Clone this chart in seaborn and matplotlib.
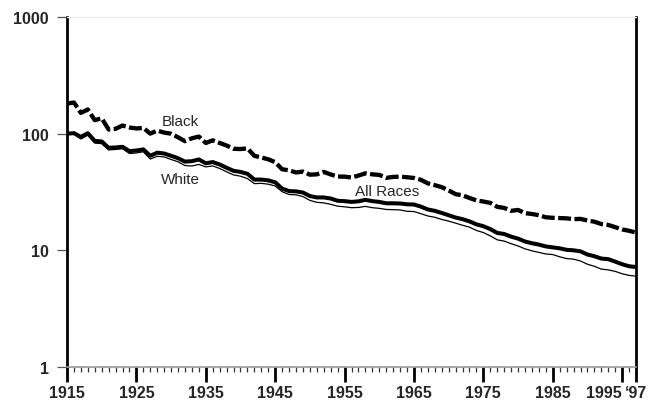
import numpy as np
import pandas as pd
import matplotlib
matplotlib.use("Agg")
import matplotlib.pyplot as plt
import seaborn as sns
from matplotlib.ticker import FixedLocator, FixedFormatter, NullFormatter

years = list(range(1915, 1998))

# infant deaths per 1,000 live births
all_races = [99.9, 101.0, 93.8, 100.9, 86.6, 85.8, 75.6, 76.2, 77.1, 70.8,
             71.7, 73.3, 64.6, 68.7, 67.6, 64.6, 61.6, 57.6, 58.1, 60.1,
             55.7, 57.1, 54.4, 51.0, 48.0, 47.0, 45.3, 40.4, 40.4, 39.8,
             38.3, 33.8, 32.2, 32.0, 31.3, 29.2, 28.4, 28.4, 27.8, 26.6,
             26.4, 26.0, 26.3, 27.1, 26.4, 26.0, 25.3, 25.3, 25.2, 24.8,
             24.7, 23.7, 22.4, 21.8, 20.9, 20.0, 19.1, 18.5, 17.7, 16.7,
             16.1, 15.2, 14.1, 13.8, 13.1, 12.6, 11.9, 11.5, 11.2, 10.8,
             10.6, 10.4, 10.1, 10.0, 9.8, 9.2, 8.9, 8.5, 8.4, 8.0,
             7.6, 7.3, 7.2]
white = [98.6, 99.0, 90.0, 97.0, 83.0, 82.1, 72.5, 73.2, 74.3, 67.6,
         68.3, 70.0, 60.6, 64.0, 63.2, 60.1, 57.4, 53.3, 52.8, 54.5,
         51.9, 52.9, 50.3, 47.1, 44.3, 43.2, 41.2, 37.3, 37.5, 36.9,
         35.6, 31.8, 30.1, 29.9, 28.9, 26.8, 25.8, 25.5, 24.8, 23.9,
         23.6, 23.2, 23.3, 23.8, 23.2, 22.9, 22.4, 22.3, 22.2, 21.6,
         21.5, 20.6, 19.7, 19.2, 18.4, 17.8, 17.1, 16.4, 15.8, 14.8,
         14.2, 13.3, 12.3, 12.0, 11.4, 10.9, 10.3, 9.9, 9.6, 9.3,
         9.2, 8.8, 8.5, 8.4, 8.1, 7.6, 7.3, 6.9, 6.8, 6.6,
         6.3, 6.1, 6.0]
black = [181.2, 184.9, 150.7, 161.1, 130.5, 135.6, 108.5, 110.0, 117.4, 112.9,
         110.8, 112.0, 100.1, 106.2, 102.1, 99.9, 93.1, 86.2, 91.3, 94.4,
         83.2, 87.6, 83.2, 79.1, 74.2, 73.8, 74.8, 64.6, 62.5, 60.3,
         57.0, 49.5, 48.5, 46.5, 47.3, 44.5, 44.8, 47.0, 44.7, 42.9,
         42.8, 42.1, 43.7, 45.7, 44.8, 44.3, 41.8, 42.6, 42.8, 42.3,
         41.7, 40.2, 37.5, 36.2, 34.8, 32.6, 30.3, 29.6, 28.1, 26.8,
         26.2, 25.5, 23.6, 23.1, 21.8, 22.2, 20.8, 20.5, 20.0, 19.2,
         19.0, 18.9, 18.8, 18.5, 18.6, 18.0, 17.6, 16.8, 16.5, 15.8,
         15.1, 14.7, 14.2]

major_years = [1915, 1925, 1935, 1945, 1955, 1965, 1975, 1985, 1995, 1997]
major_labels = ["1915", "1925", "1935", "1945", "1955", "1965", "1975",
                "1985", "1995", "\u201897"]
y_ticks = [1, 10, 100, 1000]
y_labels = ["1", "10", "100", "1000"]

df = pd.DataFrame({"year": years, "All Races": all_races,
                   "White": white, "Black": black})

sns.set_style("white")
plt.rcParams["font.family"] = ["Liberation Sans", "DejaVu Sans"]

fig = plt.figure(figsize=(6.53, 4.06), dpi=100)
ax = fig.add_axes([0.1026, 0.0936, 0.8714, 0.8621])

sns.lineplot(data=df, x="year", y="White", ax=ax, color="black", lw=0.9)
sns.lineplot(data=df, x="year", y="All Races", ax=ax, color="black", lw=2.9)
sns.lineplot(data=df, x="year", y="Black", ax=ax, color="black", lw=3.1,
             linestyle=(0, (3.0, 0.8)))

ax.set_yscale("log")
ax.set_xlim(1915, 1997)
ax.set_ylim(1, 1000)
ax.set_xlabel("")
ax.set_ylabel("")

ax.xaxis.set_major_locator(FixedLocator(major_years))
ax.xaxis.set_major_formatter(FixedFormatter(major_labels))
ax.xaxis.set_minor_locator(FixedLocator(years))
ax.yaxis.set_major_locator(FixedLocator(y_ticks))
ax.yaxis.set_major_formatter(FixedFormatter(y_labels))
ax.yaxis.set_minor_locator(FixedLocator([]))
ax.yaxis.set_minor_formatter(NullFormatter())

ax.spines["left"].set_color("black")
ax.spines["left"].set_linewidth(2.0)
ax.spines["right"].set_color("black")
ax.spines["right"].set_linewidth(2.0)
ax.spines["top"].set_color("#eeeeee")
ax.spines["top"].set_linewidth(1.0)
ax.spines["bottom"].set_color("#999999")
ax.spines["bottom"].set_linewidth(1.2)

ax.text(1931.4, 128, "Black", fontsize=11, ha="center", va="center")
ax.text(1931.4, 40.8, "White", fontsize=11, ha="center", va="center")
ax.text(1961.1, 32.2, "All Races", fontsize=11, ha="center", va="center")

ax.tick_params(axis="x", which="major", bottom=True, direction="out",
               length=11, width=2.0, color="black", pad=2, labelsize=11.5)
ax.tick_params(axis="x", which="minor", bottom=True, direction="out",
               length=3.6, width=0.9, color="#333333")
ax.tick_params(axis="y", which="major", left=True, direction="out", length=7,
               width=0.9, color="#555555", pad=6, labelsize=11.5)
for t in ax.xaxis.get_major_ticks():
    t.tick1line.set_visible(True)
    t.tick1line.set_markersize(11)
    t.tick1line.set_markeredgewidth(2.0)
    t.tick1line.set_color("black")
plt.setp(ax.get_xticklabels(), fontweight="bold")
plt.setp(ax.get_yticklabels(), fontweight="bold")
# 1995 label sits left of its tick so it clears '97
ax.get_xticklabels()[8].set_horizontalalignment("right")

fig.savefig("out.png", dpi=100)
